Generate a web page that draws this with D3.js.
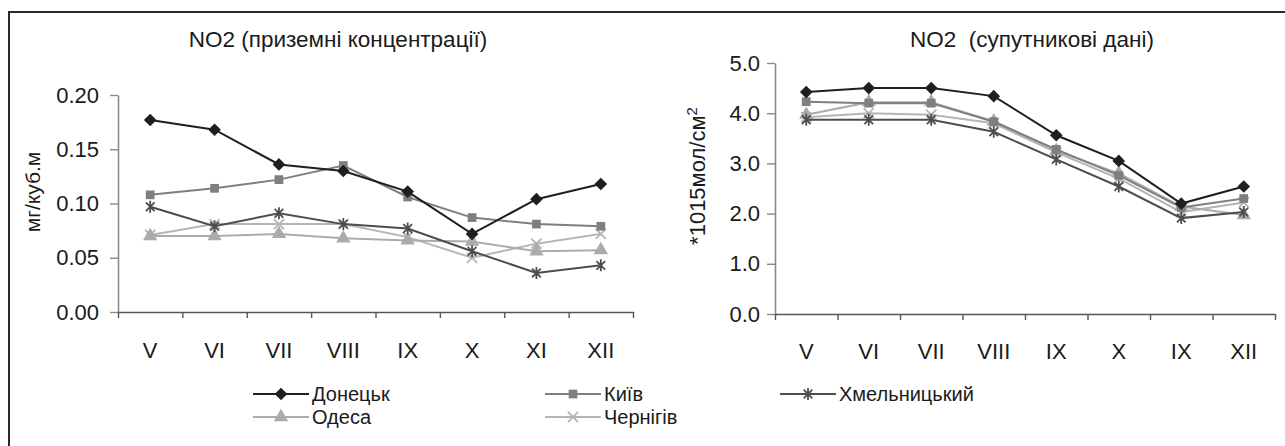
<!DOCTYPE html>
<html>
<head>
<meta charset="utf-8">
<script src="https://cdnjs.cloudflare.com/ajax/libs/d3/7.8.5/d3.min.js"></script>
<style>
  body { margin: 0; background: #fff; }
  svg text { font-family: 'Liberation Sans', Arial, sans-serif; fill: #1a1a1a; }
</style>
</head>
<body>
<script>
'use strict';

// months on the x axis (the second chart really says IX twice)
var monthsGround = ['V', 'VI', 'VII', 'VIII', 'IX', 'X', 'XI', 'XII'];
var monthsSat = ['V', 'VI', 'VII', 'VIII', 'IX', 'X', 'IX', 'XII'];

var cities = ['Донецьк', 'Київ', 'Хмельницький', 'Одеса', 'Чернігів'];

// NO2 ground concentrations, mg/m3
var donetskGround = [0.177, 0.168, 0.136, 0.130, 0.111, 0.072, 0.104, 0.118];
var kyivGround    = [0.108, 0.114, 0.122, 0.135, 0.106, 0.087, 0.081, 0.079];
var khmelGround   = [0.097, 0.079, 0.091, 0.081, 0.077, 0.056, 0.036, 0.043];
var odesaGround   = [0.070, 0.070, 0.072, 0.068, 0.066, 0.065, 0.056, 0.057];
var chernGround   = [0.071, 0.081, 0.081, 0.081, 0.069, 0.050, 0.063, 0.072];

// NO2 satellite data, *10^15 mol/cm2
var donetskSat = [4.42, 4.50, 4.50, 4.34, 3.56, 3.05, 2.20, 2.54];
var kyivSat    = [4.23, 4.20, 4.20, 3.83, 3.28, 2.76, 2.12, 2.30];
var khmelSat   = [3.87, 3.87, 3.87, 3.63, 3.08, 2.54, 1.91, 2.03];
var odesaSat   = [3.97, 4.22, 4.22, 3.84, 3.25, 2.80, 2.14, 1.97];
var chernSat   = [3.92, 4.00, 3.97, 3.80, 3.22, 2.70, 2.03, 2.22];

var groundTicks = [0, 0.05, 0.10, 0.15, 0.20];
var satTicks = [0, 1, 2, 3, 4, 5];

var groundSeries = [donetskGround, kyivGround, khmelGround, odesaGround, chernGround];
var satSeries = [donetskSat, kyivSat, khmelSat, odesaSat, chernSat];

// per city: line colour and marker
var cityColor = d3.scaleOrdinal().domain(cities)
  .range(['#1f1f1f', '#7f7f7f', '#4d4d4d', '#ababab', '#b5b5b5']);
var cityMarker = d3.scaleOrdinal().domain(cities)
  .range(['diamond', 'square', 'star', 'triangle', 'cross']);

var svg = d3.select('body').append('svg')
  .attr('width', 1285)
  .attr('height', 446);

// outer frame, only top and left edges are inside the picture
svg.append('path')
  .attr('d', 'M9,446V12H1285')
  .attr('fill', 'none')
  .attr('stroke', '#2a2a2a')
  .attr('stroke-width', 2);

function markerPath(type) {
  var r = 6;
  if (type === 'star') {
    var k = r * 0.72;
    return 'M0,' + (-r) + 'V' + r +
      'M' + (-k) + ',' + (-k) + 'L' + k + ',' + k +
      'M' + (-k) + ',' + k + 'L' + k + ',' + (-k);
  }
  if (type === 'cross') {
    var c = r * 0.85;
    return 'M' + (-c) + ',' + (-c) + 'L' + c + ',' + c +
      'M' + (-c) + ',' + c + 'L' + c + ',' + (-c);
  }
  if (type === 'square') return d3.symbol(d3.symbolSquare, 76)();
  if (type === 'triangle') return d3.symbol(d3.symbolTriangle, 90)();
  return d3.symbol(d3.symbolSquare, 80)();
}

function drawMarker(g, city) {
  var type = cityMarker(city);
  var col = cityColor(city);
  var p = g.append('path').attr('d', markerPath(type));
  if (type === 'star' || type === 'cross') {
    p.attr('fill', 'none').attr('stroke', col).attr('stroke-width', 1.8);
  } else {
    p.attr('fill', col).attr('stroke', 'none');
  }
  if (type === 'diamond') p.attr('transform', 'rotate(45)');
  return p;
}

function drawPanel(opt) {
  var g = svg.append('g');
  var n = opt.labels.length;

  var x = d3.scaleBand().domain(d3.range(n)).range(opt.xRange);
  var xEdge = d3.scaleLinear().domain([0, n]).range(opt.xRange);
  var y = d3.scaleLinear().domain(opt.yDomain).range(opt.yRange);

  // y axis
  var yAxis = g.append('g')
    .attr('transform', 'translate(' + opt.xRange[0] + ',0)')
    .call(d3.axisLeft(y).tickValues(opt.yTicks).tickFormat(opt.yFormat)
      .tickSizeInner(8).tickSizeOuter(0).tickPadding(opt.yPad));
  yAxis.select('.domain').attr('stroke', '#8a8a8a').attr('stroke-width', 1.6);
  yAxis.selectAll('.tick line').attr('stroke', '#8a8a8a').attr('stroke-width', 1.4);
  yAxis.selectAll('.tick text').style('font-size', '22px');

  // x axis: ticks between the months, labels in the middle
  var xTicks = g.append('g')
    .attr('transform', 'translate(0,' + opt.yRange[0] + ')')
    .call(d3.axisBottom(xEdge).ticks(n).tickFormat('').tickSizeInner(6).tickSizeOuter(0));
  xTicks.select('.domain').attr('stroke', '#555').attr('stroke-width', 1.6);
  xTicks.selectAll('.tick line').attr('stroke', '#555').attr('stroke-width', 1.4);

  var xLabels = g.append('g')
    .attr('transform', 'translate(0,' + opt.yRange[0] + ')')
    .call(d3.axisBottom(x).tickSize(0).tickPadding(opt.xPad)
      .tickFormat(function(i) { return opt.labels[i]; }));
  xLabels.select('.domain').remove();
  xLabels.selectAll('.tick text').style('font-size', '22px');

  // title and y axis title
  g.append('text')
    .attr('x', opt.titleX)
    .attr('y', 47)
    .attr('text-anchor', 'middle')
    .style('font-size', '22.5px')
    .style('white-space', 'pre')
    .text(opt.title);

  var yt = g.append('text')
    .attr('transform', 'translate(' + opt.yTitlePos[0] + ',' + opt.yTitlePos[1] + ') rotate(-90)')
    .attr('text-anchor', 'middle')
    .attr('dy', '0.35em')
    .style('font-size', opt.yTitleSize + 'px')
    .text(opt.yTitle);
  if (opt.yTitleSup) {
    yt.append('tspan').attr('baseline-shift', 'super').style('font-size', '15px').text(opt.yTitleSup);
  }

  // lines and markers, last series first so Donetsk stays on top
  var line = d3.line()
    .x(function(d, i) { return x(i) + x.bandwidth() / 2; })
    .y(function(d) { return y(d); });

  var order = [4, 3, 2, 1, 0];
  order.forEach(function(k) {
    var city = cities[k];
    var vals = opt.series[k];
    g.append('path')
      .datum(vals)
      .attr('fill', 'none')
      .attr('stroke', cityColor(city))
      .attr('stroke-width', 2)
      .attr('d', line);

    vals.forEach(function(v, i) {
      var m = g.append('g')
        .attr('transform', 'translate(' + (x(i) + x.bandwidth() / 2) + ',' + y(v) + ')');
      drawMarker(m, city);
    });
  });
}

drawPanel({
  title: 'NO2 (приземні концентрації)',
  titleX: 338,
  labels: monthsGround,
  series: groundSeries,
  xRange: [118, 633],
  yDomain: [0, 0.2],
  yRange: [312, 95],
  yTicks: groundTicks,
  yFormat: d3.format('.2f'),
  yPad: 11,
  xPad: 30,
  yTitle: 'мг/куб.м',
  yTitlePos: [33, 192],
  yTitleSize: 21
});

drawPanel({
  title: 'NO2  (супутникові дані)',
  titleX: 1032,
  labels: monthsSat,
  series: satSeries,
  xRange: [775, 1275],
  yDomain: [0, 5],
  yRange: [314, 63],
  yTicks: satTicks,
  yFormat: d3.format('.1f'),
  yPad: 7,
  xPad: 29,
  yTitle: '*1015мол/см',
  yTitleSup: '2',
  yTitlePos: [697, 176],
  yTitleSize: 22
});

// legend: three columns, two rows
var legendCols = [253, 545, 780];
var legendRows = [394, 417];
var legendPos = [[0, 0], [1, 0], [2, 0], [0, 1], [1, 1]];

var legend = svg.append('g');
cities.forEach(function(city, k) {
  var lx = legendCols[legendPos[k][0]];
  var ly = legendRows[legendPos[k][1]];
  var item = legend.append('g').attr('transform', 'translate(' + lx + ',' + ly + ')');
  item.append('line')
    .attr('x1', 0).attr('x2', 56)
    .attr('stroke', cityColor(city))
    .attr('stroke-width', 2);
  drawMarker(item.append('g').attr('transform', 'translate(28,0)'), city);
  item.append('text')
    .attr('x', 59)
    .attr('dy', '0.36em')
    .style('font-size', '20px')
    .text(city);
});
</script>
</body>
</html>
